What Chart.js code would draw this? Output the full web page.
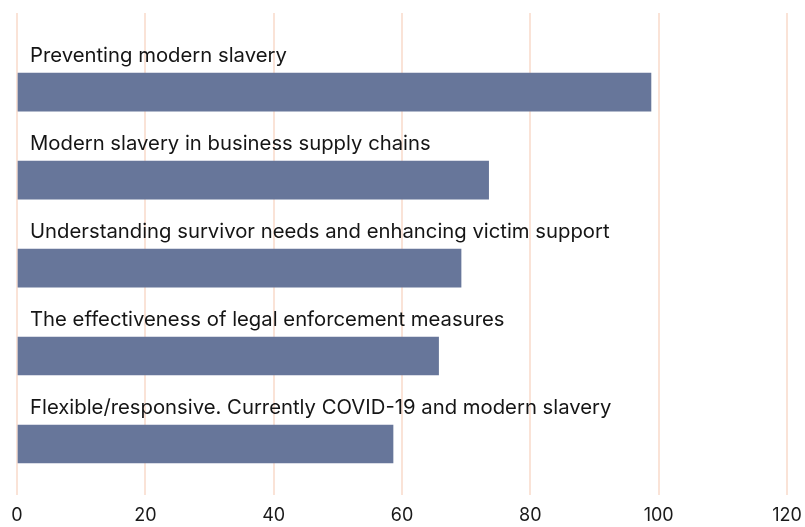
<!DOCTYPE html>
<html>
<head>
<meta charset="utf-8">
<script src="https://cdn.jsdelivr.net/npm/chart.js@4.4.0/dist/chart.umd.min.js"></script>
<style>
  html, body { margin: 0; padding: 0; background: #fff; }
  #wrap { width: 805px; height: 527px; position: relative; }
</style>
</head>
<body>
<div id="wrap"><canvas id="chart"></canvas></div>
<script>
var categories = [
    "Preventing modern slavery",
    "Modern slavery in business supply chains",
    "Understanding survivor needs and enhancing victim support",
    "The effectiveness of legal enforcement measures",
    "Flexible/responsive. Currently COVID-19 and modern slavery"
]
var values = [98.8, 73.5, 69.2, 65.7, 58.6]
var xTicks = [0, 20, 40, 60, 80, 100, 120]

var barColor = "#67769A"
var gridColor = "#FAE3D7"
var fontName = "Inter"

// label above each bar, placed with the y scale
var barLabels = {
    id: "barLabels",
    afterDatasetsDraw: function(chart){
        var ctx = chart.ctx
        var xs = chart.scales.x
        var ys = chart.scales.y
        ctx.save()
        ctx.font = "20.3px " + fontName
        ctx.fillStyle = "#151515"
        ctx.textBaseline = "alphabetic"
        ctx.textAlign = "left"
        categories.forEach(function(c, i){
            ctx.fillText(c, xs.left + 13, ys.getPixelForValue(i) - 30)
        })
        ctx.restore()
    }
}

new Chart(document.getElementById("chart"), {
    type: "bar",
    data: {
        datasets: [{
            data: values.map(function(v, i){ return {x: v, y: i} }),
            backgroundColor: barColor,
            barThickness: 38,
            borderWidth: 0
        }]
    },
    options: {
        indexAxis: "y",
        responsive: true,
        maintainAspectRatio: false,
        animation: false,
        layout: {padding: {top: 13, left: 0, right: 0, bottom: 0}},
        scales: {
            x: {
                type: "linear", min: 0, max: 120,
                afterBuildTicks: function(axis){ axis.ticks = xTicks.map(function(v){ return {value: v} }) },
                afterFit: function(axis){
                    axis.height = 32
                    axis.paddingLeft = 17
                    axis.paddingRight = 18
                },
                grid: {color: gridColor, lineWidth: 2, drawTicks: false},
                border: {display: false},
                ticks: {color: "#1a1a1a", padding: 10, font: {family: fontName, size: 18}}
            },
            y: {
                type: "linear", reverse: true, min: -0.9, max: 4.58,
                offset: false,
                display: false
            }
        },
        plugins: {legend: {display: false}, tooltip: {enabled: false}}
    },
    plugins: [barLabels]
})
</script>
</body>
</html>
